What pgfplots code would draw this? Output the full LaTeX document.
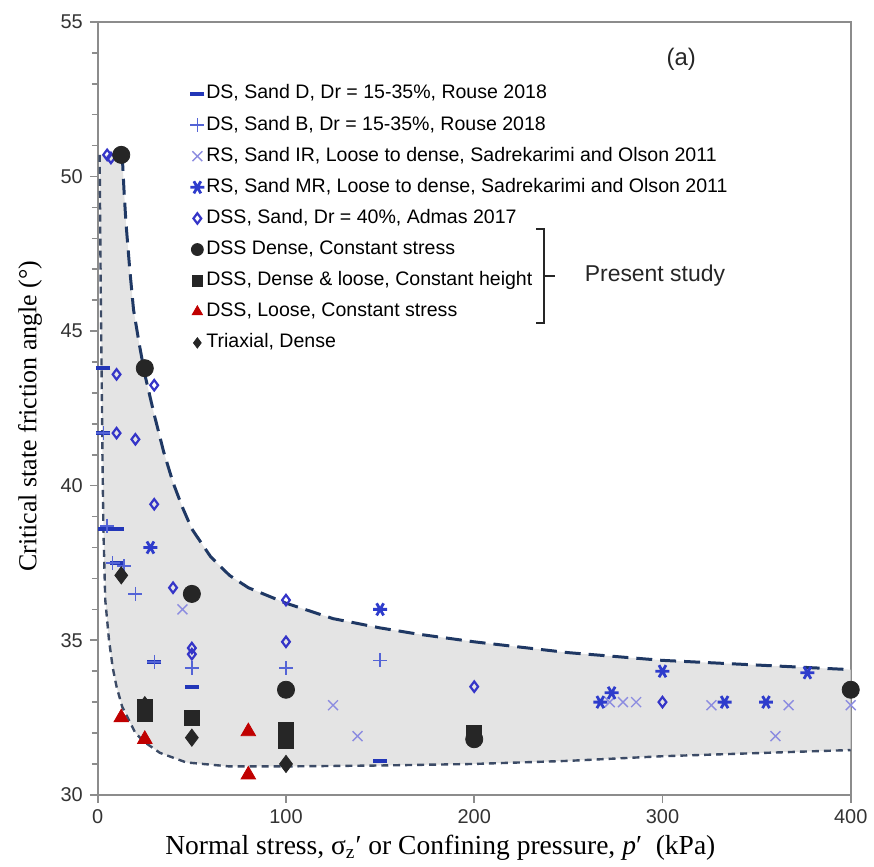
\documentclass[border=0pt]{standalone}
\usepackage{fontspec}
\setmainfont{Liberation Sans}
\newfontfamily\seriffont{Liberation Serif}
\usepackage{pgfplots}
\pgfplotsset{compat=1.18}
\definecolor{fillgray}{HTML}{E4E4E4}
\definecolor{upc}{HTML}{1F3864}
\definecolor{loc}{HTML}{3C4B66}
\definecolor{dsd}{HTML}{2236B8}
\definecolor{dsb}{HTML}{5464D6}
\definecolor{rsir}{HTML}{8C8CE0}
\definecolor{rsmr}{HTML}{2E3CCC}
\definecolor{adm}{HTML}{3535C8}
\definecolor{dk}{HTML}{262626}
\definecolor{tri}{HTML}{C00000}
\begin{document}
\begin{tikzpicture}
\begin{axis}[name=ax,
  scale only axis, width=377.5pt, height=387.5pt,
  xmin=0, xmax=400, ymin=30, ymax=55,
  xtick={0,100,200,300,400}, ytick={30,35,40,45,50,55},
  minor y tick num=4,
  tick align=outside, tick pos=left,
  major tick length=4pt, minor tick length=3pt,
  axis line style={black!45, line width=0.8pt},
  every tick/.style={black!45, line width=0.8pt},
  tick label style={font=\fontsize{10}{12}\selectfont, color=black!80},
  /pgf/number format/assume math mode=true,
  xlabel={Normal stress, σ\textsubscript{z}′ or Confining pressure, \textit{p}′\ \ (kPa)},
  ylabel={Critical state friction angle (°)},
  every axis x label/.style={at={(axis description cs:0.455,-0.068)}, anchor=center,
    font=\seriffont\fontsize{13.8}{16}\selectfont},
  every axis y label/.style={at={(axis description cs:-0.09,0.49)}, anchor=center, rotate=90,
    font=\seriffont\fontsize{13}{15}\selectfont},
  clip=false,
  legend cell align=left,
  legend image code/.code={\draw[mark repeat=2,mark phase=2,#1] plot coordinates {(0pt,0pt)(5pt,0pt)(10pt,0pt)};},
  legend style={draw=none, fill=none, at={(axis cs:49,53.07)}, anchor=north west,
    font=\fontsize{9.8}{12}\selectfont, row sep=3.6pt, inner sep=0pt,
    nodes={inner sep=1pt, text height=7.5pt, text depth=2.5pt}},
]
% shaded band
\addplot[fill=fillgray, draw=none, forget plot] coordinates {
 (1,50.7) (13,50.7) (14,49.5) (15,48.5) (17,47) (19,45.7) (22,44.6) (25,43.6) (30,42.3)
 (35,41.1) (40,40.1) (45,39.3) (50,38.6) (60,37.7) (70,37.1) (80,36.7) (100,36.2)
 (125,35.7) (150,35.4) (170,35.2) (200,34.95) (250,34.6) (300,34.35) (350,34.2) (400,34.05)
 (400,31.45) (350,31.35) (300,31.25) (250,31.1) (200,31.0) (150,30.95) (100,30.92) (70,30.92)
 (47,31.05) (33,31.36) (25,31.7) (20,32.0) (13,32.85) (10,33.5) (8,34.1) (6,35.0) (4,36.3)
 (3,38.6) (2.5,41) (2,44) (1.5,47) (1,50.7)} -- cycle;
% upper bound
\addplot[upc, line width=1.5pt, dash pattern=on 8pt off 4pt, forget plot] coordinates {
 (13,50.7) (14,49.5) (15,48.5) (17,47) (19,45.7) (22,44.6) (25,43.6) (30,42.3)
 (35,41.1) (40,40.1) (45,39.3) (50,38.6) (60,37.7) (70,37.1) (80,36.7) (100,36.2)
 (125,35.7) (150,35.4) (170,35.2) (200,34.95) (250,34.6) (300,34.35) (350,34.2) (400,34.05)};
% lower bound
\addplot[loc, line width=1.2pt, dash pattern=on 3.5pt off 2.5pt, forget plot] coordinates {
 (1,50.7) (1.5,47) (2,44) (2.5,41) (3,38.6) (4,36.3) (6,35.0) (8,34.1) (10,33.5) (13,32.85)
 (20,32.0) (25,31.7) (33,31.36) (47,31.05) (70,30.92) (100,30.92) (150,30.95) (200,31.0)
 (250,31.1) (300,31.25) (350,31.35) (400,31.45)};
% DS Sand D
\addplot[only marks, mark=-, mark size=3.5pt, dsd, mark options={line width=2pt}] coordinates {
 (3,43.8) (3,41.7) (4,38.6) (10,38.6) (10,37.5) (30,34.3) (50,33.5) (150,31.1)};
\addlegendentry{DS, Sand D, Dr = 15-35\%, Rouse 2018}
% DS Sand B
\addplot[only marks, mark=+, mark size=3.5pt, dsb, mark options={line width=0.7pt}] coordinates {
 (3,41.7) (5,38.7) (8,37.5) (14,37.4) (20,36.5) (30,34.3) (50,34.1) (100,34.1) (150,34.35)};
\addlegendentry{DS, Sand B, Dr = 15-35\%, Rouse 2018}
% RS Sand IR
\addplot[only marks, mark=x, mark size=3.5pt, rsir, mark options={line width=0.7pt}] coordinates {
 (45,36.0) (125,32.9) (138,31.9) (272,33.0) (279,33.0) (286,33.0) (326,32.9) (360,31.9) (367,32.9) (400,32.9)};
\addlegendentry{RS, Sand IR, Loose to dense, Sadrekarimi and Olson 2011}
% RS Sand MR
\addplot[only marks, mark=asterisk, mark size=3.5pt, rsmr, mark options={line width=1.4pt, rotate=90}] coordinates {
 (28,38.0) (150,36.0) (267,33.0) (273,33.3) (300,34.0) (333,33.0) (355,33.0) (377,33.95)};
\addlegendentry{RS, Sand MR, Loose to dense, Sadrekarimi and Olson 2011}
% DSS Admas
\addplot[only marks, mark=diamond, mark size=2.6pt, adm, mark options={line width=1.1pt, fill=white}] coordinates {
 (5,50.7) (7,50.6) (10,43.6) (30,43.25) (10,41.7) (20,41.5) (30,39.4) (40,36.7)
 (50,34.75) (50,34.55) (100,36.3) (100,34.95) (200,33.5) (300,33.0)};
\addlegendentry{DSS, Sand, Dr = 40\%, Admas 2017}
% DSS Dense constant stress
\addplot[only marks, mark=*, mark size=4.3pt, dk, mark options={fill=dk, draw=dk}, legend image post style={mark size=3pt}] coordinates {
 (12.5,50.7) (25,43.8) (50,36.5) (100,33.4) (200,31.8) (400,33.4)};
\addlegendentry{DSS Dense, Constant stress}
% DSS dense & loose constant height
\addplot[only marks, mark=square*, mark size=3.7pt, dk, mark options={fill=dk, draw=dk}, legend image post style={mark size=2.7pt}] coordinates {
 (25,32.6) (25,32.85) (50,32.5) (100,32.1) (100,31.75) (200,32.0)};
\addlegendentry{DSS, Dense \& loose, Constant height}
% DSS loose constant stress
\addplot[only marks, mark=triangle*, mark size=4.2pt, tri, mark options={fill=tri, draw=tri}, legend image post style={mark size=3pt}] coordinates {
 (12.5,32.5) (25,31.8) (80,32.05) (80,30.65)};
\addlegendentry{DSS, Loose, Constant stress}
% Triaxial
\addplot[only marks, mark=diamond*, mark size=4.3pt, dk, mark options={fill=dk, draw=dk}, legend image post style={mark size=2.6pt}] coordinates {
 (12.5,37.1) (25,32.9) (50,31.85) (100,31.0)};
\addlegendentry{Triaxial, Dense}
% annotations
\draw[black!85, line width=1pt] (axis cs:233,48.3) -- (axis cs:237,48.3) -- (axis cs:237,45.25) -- (axis cs:233,45.25);
\draw[black!85, line width=1pt] (axis cs:237,46.79) -- (axis cs:243,46.79);
\node[anchor=west, font=\fontsize{11.5}{13}\selectfont, black!85] at (axis cs:255,46.79) {Present study};
\node[font=\fontsize{12}{14}\selectfont, black!85] at (axis cs:310,53.8) {(a)};
\end{axis}
\path ([xshift=-49pt,yshift=-34.5pt]ax.south west) rectangle ([xshift=10.5pt,yshift=11pt]ax.north east);
\end{tikzpicture}
\end{document}
